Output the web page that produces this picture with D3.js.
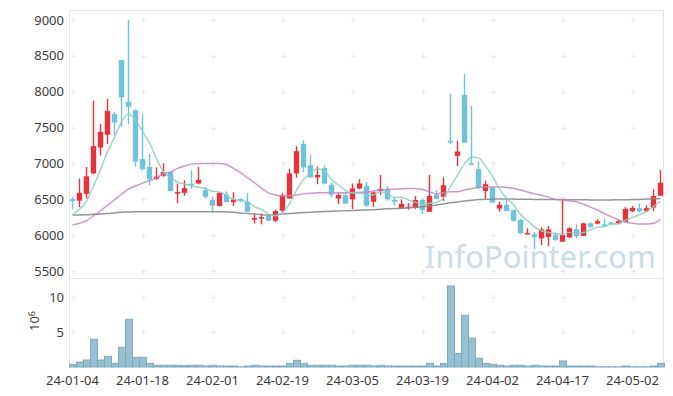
<!DOCTYPE html>
<html>
<head>
<meta charset="utf-8">
<script src="https://cdn.jsdelivr.net/npm/d3@7"></script>
<style>
  body { margin: 0; background: #fff; }
  svg { display: block; font-family: "Noto Sans", sans-serif; }
</style>
</head>
<body>
<div id="chart"></div>
<script>
// trading days (KRX), 2024-01-04 .. 2024-05-09
var dates = ["24-01-04","24-01-05","24-01-08","24-01-09","24-01-10","24-01-11","24-01-12","24-01-15","24-01-16","24-01-17",
             "24-01-18","24-01-19","24-01-22","24-01-23","24-01-24","24-01-25","24-01-26","24-01-29","24-01-30","24-01-31",
             "24-02-01","24-02-02","24-02-05","24-02-06","24-02-07","24-02-08","24-02-13","24-02-14","24-02-15","24-02-16",
             "24-02-19","24-02-20","24-02-21","24-02-22","24-02-23","24-02-26","24-02-27","24-02-28","24-02-29","24-03-04",
             "24-03-05","24-03-06","24-03-07","24-03-08","24-03-11","24-03-12","24-03-13","24-03-14","24-03-15","24-03-18",
             "24-03-19","24-03-20","24-03-21","24-03-22","24-03-25","24-03-26","24-03-27","24-03-28","24-03-29","24-04-01",
             "24-04-02","24-04-03","24-04-04","24-04-05","24-04-08","24-04-09","24-04-11","24-04-12","24-04-15","24-04-16",
             "24-04-17","24-04-18","24-04-19","24-04-22","24-04-23","24-04-24","24-04-25","24-04-26","24-04-29","24-04-30",
             "24-05-02","24-05-03","24-05-07","24-05-08","24-05-09"];

var open  = [6500,6480,6575,6860,7220,7400,7690,8440,7860,7740, 7060,6950,6785,6830,6880,6580,6590,6715,6720,6625,
             6490,6405,6565,6460,6505,6465,6215,6230,6265,6200, 6340,6510,6860,7270,6975,6805,6935,6700,6510,6555,
             6500,6650,6685,6465,6615,6645,6490,6375,6375,6380, 6490,6325,6560,6535,7315,7105,7955,7000,6920,6615,
             6665,6370,6420,6350,6210,6010,6010,5955,5975,6000, 5910,5970,6080,5990,6165,6160,6150,6175,6165,6185,
             6335,6375,6335,6385,6550];
var high  = [6530,6790,6950,7875,7550,7900,7720,8445,9000,7755, 7690,7130,6945,7000,6885,6720,6765,6905,6950,6670,
             6535,6605,6610,6600,6520,6585,6305,6300,6290,6355, 6590,6925,7240,7320,7125,6955,6975,6735,6585,6590,
             6720,6780,6740,6605,6840,6685,6525,6500,6445,6545, 6500,6840,6630,6805,7970,7315,8245,7800,7025,6760,
             6675,6465,6510,6355,6230,6095,6045,6110,6125,6035, 6505,6110,6150,6170,6175,6220,6235,6180,6220,6390,
             6405,6435,6415,6640,6910];
var low   = [6360,6390,6510,6850,7110,7270,7400,7510,7550,6955, 6900,6695,6770,6815,6610,6445,6550,6645,6710,6510,
             6335,6400,6460,6405,6460,6325,6160,6150,6200,6185, 6310,6505,6800,6875,6805,6710,6710,6530,6435,6440,
             6365,6640,6395,6395,6560,6480,6410,6365,6355,6365, 6295,6325,6500,6475,7270,6965,7285,6975,6640,6505,
             6455,6325,6335,6185,6015,6010,5800,5860,5845,5920, 5905,5960,5955,5990,6100,6150,6115,6140,6150,6185,
             6320,6320,6320,6335,6550];
var close = [6475,6590,6820,7240,7440,7730,7570,7920,7790,7025, 6920,6780,6815,6880,6615,6600,6655,6695,6770,6535,
             6410,6590,6460,6495,6470,6325,6240,6250,6200,6335, 6555,6860,7170,6945,6805,6840,6720,6565,6560,6440,
             6650,6720,6410,6595,6645,6500,6465,6435,6395,6490, 6350,6545,6505,6695,7290,7165,7290,6985,6655,6710,
             6455,6420,6335,6200,6025,6030,5970,6080,6080,5935, 6000,6095,5985,6165,6115,6195,6140,6150,6195,6365,
             6380,6335,6375,6545,6730];

// volume, in millions of shares
var volume = [0.38,0.71,1.0,3.95,1.0,1.52,0.52,2.81,6.81,1.38, 1.38,0.52,0.24,0.24,0.24,0.24,0.2,0.24,0.24,0.14,
              0.24,0.14,0.14,0.14,0.03,0.14,0.24,0.14,0.14,0.14, 0.14,0.52,0.95,0.52,0.24,0.24,0.24,0.24,0.14,0.14,
              0.24,0.24,0.24,0.14,0.24,0.14,0.14,0.14,0.14,0.14, 0.14,0.52,0.14,0.52,11.57,1.95,7.38,4.1,1.24,0.52,
              0.38,0.24,0.14,0.24,0.24,0.14,0.24,0.14,0.14,0.14, 0.86,0.14,0.14,0.14,0.14,0.03,0.03,0.03,0.03,0.14,
              0.03,0.03,0.03,0.14,0.52];

// moving averages
var ma5  = [6280,6360,6475,6685,6913,7164,7360,7580,7690,7607, 7445,7287,7066,6884,6802,6738,6713,6689,6667,6651,
            6613,6600,6553,6498,6485,6468,6398,6356,6297,6270, 6316,6440,6624,6773,6867,6924,6896,6775,6698,6625,
            6587,6587,6556,6563,6604,6574,6523,6528,6488,6457, 6427,6443,6457,6517,6677,6840,6989,7085,7077,6961,
            6819,6645,6515,6424,6287,6202,6112,6061,6037,6019, 6013,6038,6019,6036,6072,6111,6120,6153,6159,6209,
            6246,6285,6330,6400,6473];
var ma20 = [6140,6165,6200,6270,6340,6415,6490,6570,6640,6685, 6725,6760,6795,6860,6880,6930,6965,6990,7000,7000,
            7000,7000,6985,6930,6870,6800,6730,6655,6590,6560, 6545,6550,6560,6575,6585,6590,6591,6591,6591,6591,
            6593,6596,6600,6615,6629,6635,6640,6645,6650,6650, 6635,6605,6575,6590,6605,6605,6630,6650,6666,6670,
            6672,6670,6665,6650,6630,6600,6575,6555,6530,6498, 6490,6480,6466,6430,6390,6350,6300,6255,6210,6180,
            6165,6154,6155,6165,6220];
var ma60 = [6280,6282,6285,6290,6295,6300,6310,6318,6322,6325, 6326,6326,6326,6326,6326,6326,6326,6326,6326,6326,
            6326,6326,6324,6320,6310,6300,6292,6285,6282,6285, 6295,6303,6310,6315,6320,6326,6330,6333,6336,6340,
            6343,6346,6350,6355,6360,6366,6370,6375,6383,6390, 6396,6405,6420,6435,6450,6462,6475,6485,6495,6500,
            6502,6503,6503,6502,6500,6500,6498,6497,6496,6495, 6495,6494,6493,6492,6491,6490,6490,6491,6492,6494,
            6495,6498,6502,6506,6510];

var xTicks = ["24-01-04","24-01-18","24-02-01","24-02-19","24-03-05","24-03-19","24-04-02","24-04-17","24-05-02"];
var priceTicks = [5500,6000,6500,7000,7500,8000,8500,9000];
var volTicks = [5,10];

var W = 673, H = 396;
var left = 69, right = 664;
var mainTop = 10, mainBottom = 278;
var volTop = 278, volBottom = 367;

var upColor = "#e8323b", downColor = "#6ec2d9";

var svg = d3.select("#chart").append("svg")
            .attr("width", W)
            .attr("height", H)

var xScale = d3.scaleBand()
               .domain(dates)
               .range([left, right])
               .padding(0)
var cx = d => xScale(d) + xScale.bandwidth() / 2;

var yScale = d3.scaleLinear()
               .domain([5402, 9139])
               .range([mainBottom, mainTop])
var vScale = d3.scaleLinear()
               .domain([0, 12.71])
               .range([volBottom, volTop])

// frame
svg.append("rect")
   .attr("x", left + 0.5).attr("y", mainTop + 0.5)
   .attr("width", right - left - 1).attr("height", mainBottom - mainTop)
   .attr("fill", "none").attr("stroke", "#e6e6e6")
svg.append("line")
   .attr("x1", left + 0.5).attr("x2", left + 0.5).attr("y1", volTop).attr("y2", volBottom)
   .attr("stroke", "#e6e6e6")
svg.append("line")
   .attr("x1", right - 0.5).attr("x2", right - 0.5).attr("y1", volTop).attr("y2", volBottom)
   .attr("stroke", "#e6e6e6")

// "+" grid marks
var marks = svg.append("g").attr("stroke", "#e8e8e8").attr("stroke-width", 1)
function plus(x, y)
{
    marks.append("line").attr("x1", x - 2.5).attr("x2", x + 2.5).attr("y1", y).attr("y2", y)
    marks.append("line").attr("x1", x).attr("x2", x).attr("y1", y - 2.5).attr("y2", y + 2.5)
}
xTicks.forEach(function(t) {
    priceTicks.forEach(p => plus(Math.round(cx(t)) + 0.5, Math.round(yScale(p)) + 0.5))
    volTicks.forEach(v => plus(Math.round(cx(t)) + 0.5, Math.round(vScale(v)) + 0.5))
})

// watermark
svg.append("text")
   .attr("x", 656).attr("y", 268)
   .attr("text-anchor", "end")
   .style("font-size", "31px")
   .style("fill", "#cadce6")
   .text("InfoPointer.com")

// volume bars
svg.append("g").selectAll("rect")
   .data(dates)
   .enter().append("rect")
   .attr("x", d => xScale(d) + 0.5)
   .attr("y", (d, i) => vScale(volume[i]))
   .attr("width", xScale.bandwidth())
   .attr("height", (d, i) => vScale(0) - vScale(volume[i]))
   .attr("fill", "#98c0d0")
   .attr("stroke", "#7eaac0")
   .attr("stroke-width", 1)

// candles
var candles = svg.append("g")
candles.selectAll("line")
       .data(dates)
       .enter().append("line")
       .attr("x1", cx).attr("x2", cx)
       .attr("y1", (d, i) => yScale(high[i]))
       .attr("y2", (d, i) => yScale(low[i]))
       .attr("stroke", (d, i) => close[i] >= open[i] ? upColor : downColor)
       .attr("stroke-width", 1.4)
candles.selectAll("rect")
       .data(dates)
       .enter().append("rect")
       .attr("x", d => cx(d) - 2.7)
       .attr("width", 5.4)
       .attr("y", (d, i) => yScale(Math.max(open[i], close[i])))
       .attr("height", (d, i) => Math.max(1.5, Math.abs(yScale(open[i]) - yScale(close[i]))))
       .attr("fill", (d, i) => close[i] >= open[i] ? upColor : downColor)

// moving average lines
var line = d3.line()
             .x((d, i) => cx(dates[i]))
             .y(d => yScale(d))
             .curve(d3.curveMonotoneX)
svg.append("path").attr("d", line(ma60)).attr("fill", "none")
   .attr("stroke", "#8a8a8a").attr("stroke-width", 1.5).attr("opacity", 0.9)
svg.append("path").attr("d", line(ma20)).attr("fill", "none")
   .attr("stroke", "#c585c2").attr("stroke-width", 1.5).attr("opacity", 0.85)
svg.append("path").attr("d", line(ma5)).attr("fill", "none")
   .attr("stroke", "#8bcfc3").attr("stroke-width", 1.4).attr("opacity", 0.9)

// axis labels
priceTicks.forEach(function(p) {
    svg.append("text")
       .attr("x", 64).attr("y", yScale(p))
       .attr("dy", "0.35em")
       .attr("text-anchor", "end")
       .style("font-size", "13px")
       .style("fill", "#3a3a3a")
       .text(p)
})
volTicks.forEach(function(v) {
    svg.append("text")
       .attr("x", 64).attr("y", vScale(v))
       .attr("dy", "0.35em")
       .attr("text-anchor", "end")
       .style("font-size", "13px")
       .style("fill", "#3a3a3a")
       .text(v)
})
xTicks.forEach(function(t) {
    svg.append("text")
       .attr("x", cx(t)).attr("y", 380)
       .attr("dy", "0.35em")
       .attr("text-anchor", "middle")
       .style("font-size", "13px")
       .style("fill", "#3a3a3a")
       .text(t)
})

var unit = svg.append("text")
              .attr("transform", "translate(39,321) rotate(-90)")
              .attr("text-anchor", "middle")
              .style("font-size", "13px")
              .style("fill", "#3a3a3a")
unit.append("tspan").text("10")
unit.append("tspan").attr("dy", "-0.5em").style("font-size", "9px").text("6")
</script>
</body>
</html>
